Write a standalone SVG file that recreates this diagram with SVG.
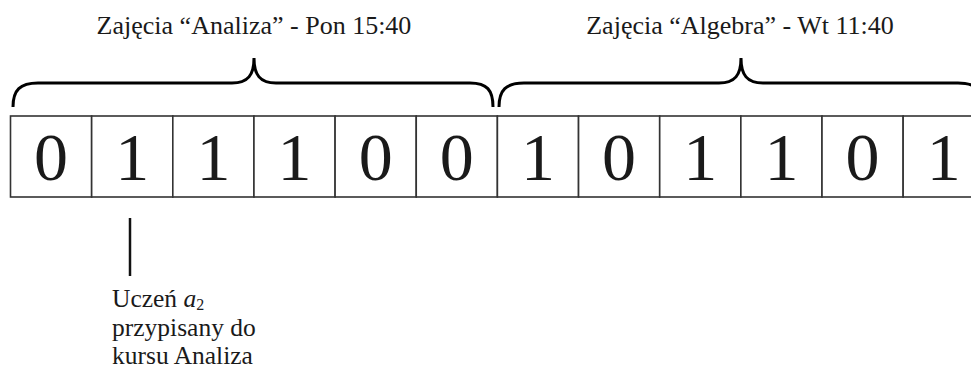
<svg xmlns="http://www.w3.org/2000/svg" width="971" height="370" viewBox="0 0 971 370">
<style>
text{font-family:"Liberation Serif","Times New Roman",serif;fill:#1a1a1a}
.title{font-size:26px;text-anchor:middle}
.digit{font-size:68px;text-anchor:middle}
.note{font-size:25.5px}
.brace{fill:none;stroke:#000;stroke-width:3;stroke-linecap:butt}
.cell{fill:#fff;stroke:#333;stroke-width:1.6}
</style>
<rect width="971" height="370" fill="#fff"/>
<g id="label-analiza"><text class="title" x="254" y="34">Zajęcia “Analiza” - Pon 15:40</text></g>
<g id="label-algebra"><text class="title" x="740" y="34">Zajęcia “Algebra” - Wt 11:40</text></g>
<g id="braces">
<path class="brace" d="M13,107 C13,90 20,83 38,83 L232,83 C248,83 254,75 254,58 C254,75 260,83 276,83 L470,83 C487,83 493,90 493,107"/>
<path class="brace" d="M499,107 C499,90 506,83 524,83 L719,83 C735,83 741,75 741,58 C741,75 747,83 763,83 L958,83 C976,83 983,90 983,107"/>
</g>
<g id="cells">
<rect class="cell" x="10.5" y="116" width="81.15" height="81"/>
<rect class="cell" x="91.65" y="116" width="81.15" height="81"/>
<rect class="cell" x="172.8" y="116" width="81.15" height="81"/>
<rect class="cell" x="253.95" y="116" width="81.15" height="81"/>
<rect class="cell" x="335.1" y="116" width="81.15" height="81"/>
<rect class="cell" x="416.25" y="116" width="81.15" height="81"/>
<rect class="cell" x="497.4" y="116" width="81.15" height="81"/>
<rect class="cell" x="578.55" y="116" width="81.15" height="81"/>
<rect class="cell" x="659.7" y="116" width="81.15" height="81"/>
<rect class="cell" x="740.85" y="116" width="81.15" height="81"/>
<rect class="cell" x="822" y="116" width="81.15" height="81"/>
<rect class="cell" x="903.15" y="116" width="81.15" height="81"/>
<text class="digit" x="51" y="180">0</text>
<text class="digit" x="132.2" y="180">1</text>
<text class="digit" x="213.4" y="180">1</text>
<text class="digit" x="294.5" y="180">1</text>
<text class="digit" x="375.7" y="180">0</text>
<text class="digit" x="456.8" y="180">0</text>
<text class="digit" x="538" y="180">1</text>
<text class="digit" x="619.1" y="180">0</text>
<text class="digit" x="700.3" y="180">1</text>
<text class="digit" x="781.4" y="180">1</text>
<text class="digit" x="862.6" y="180">0</text>
<text class="digit" x="943.7" y="180">1</text>
</g>
<g id="connectors">
<line x1="130" y1="218" x2="130" y2="276" stroke="#111" stroke-width="2.5"/>
</g>
<g id="note">
<text class="note" x="112" y="307">Uczeń <tspan font-style="italic">a</tspan><tspan font-size="16" dy="3">2</tspan></text>
<text class="note" x="112" y="336">przypisany do</text>
<text class="note" x="112" y="364">kursu Analiza</text>
</g>
</svg>
